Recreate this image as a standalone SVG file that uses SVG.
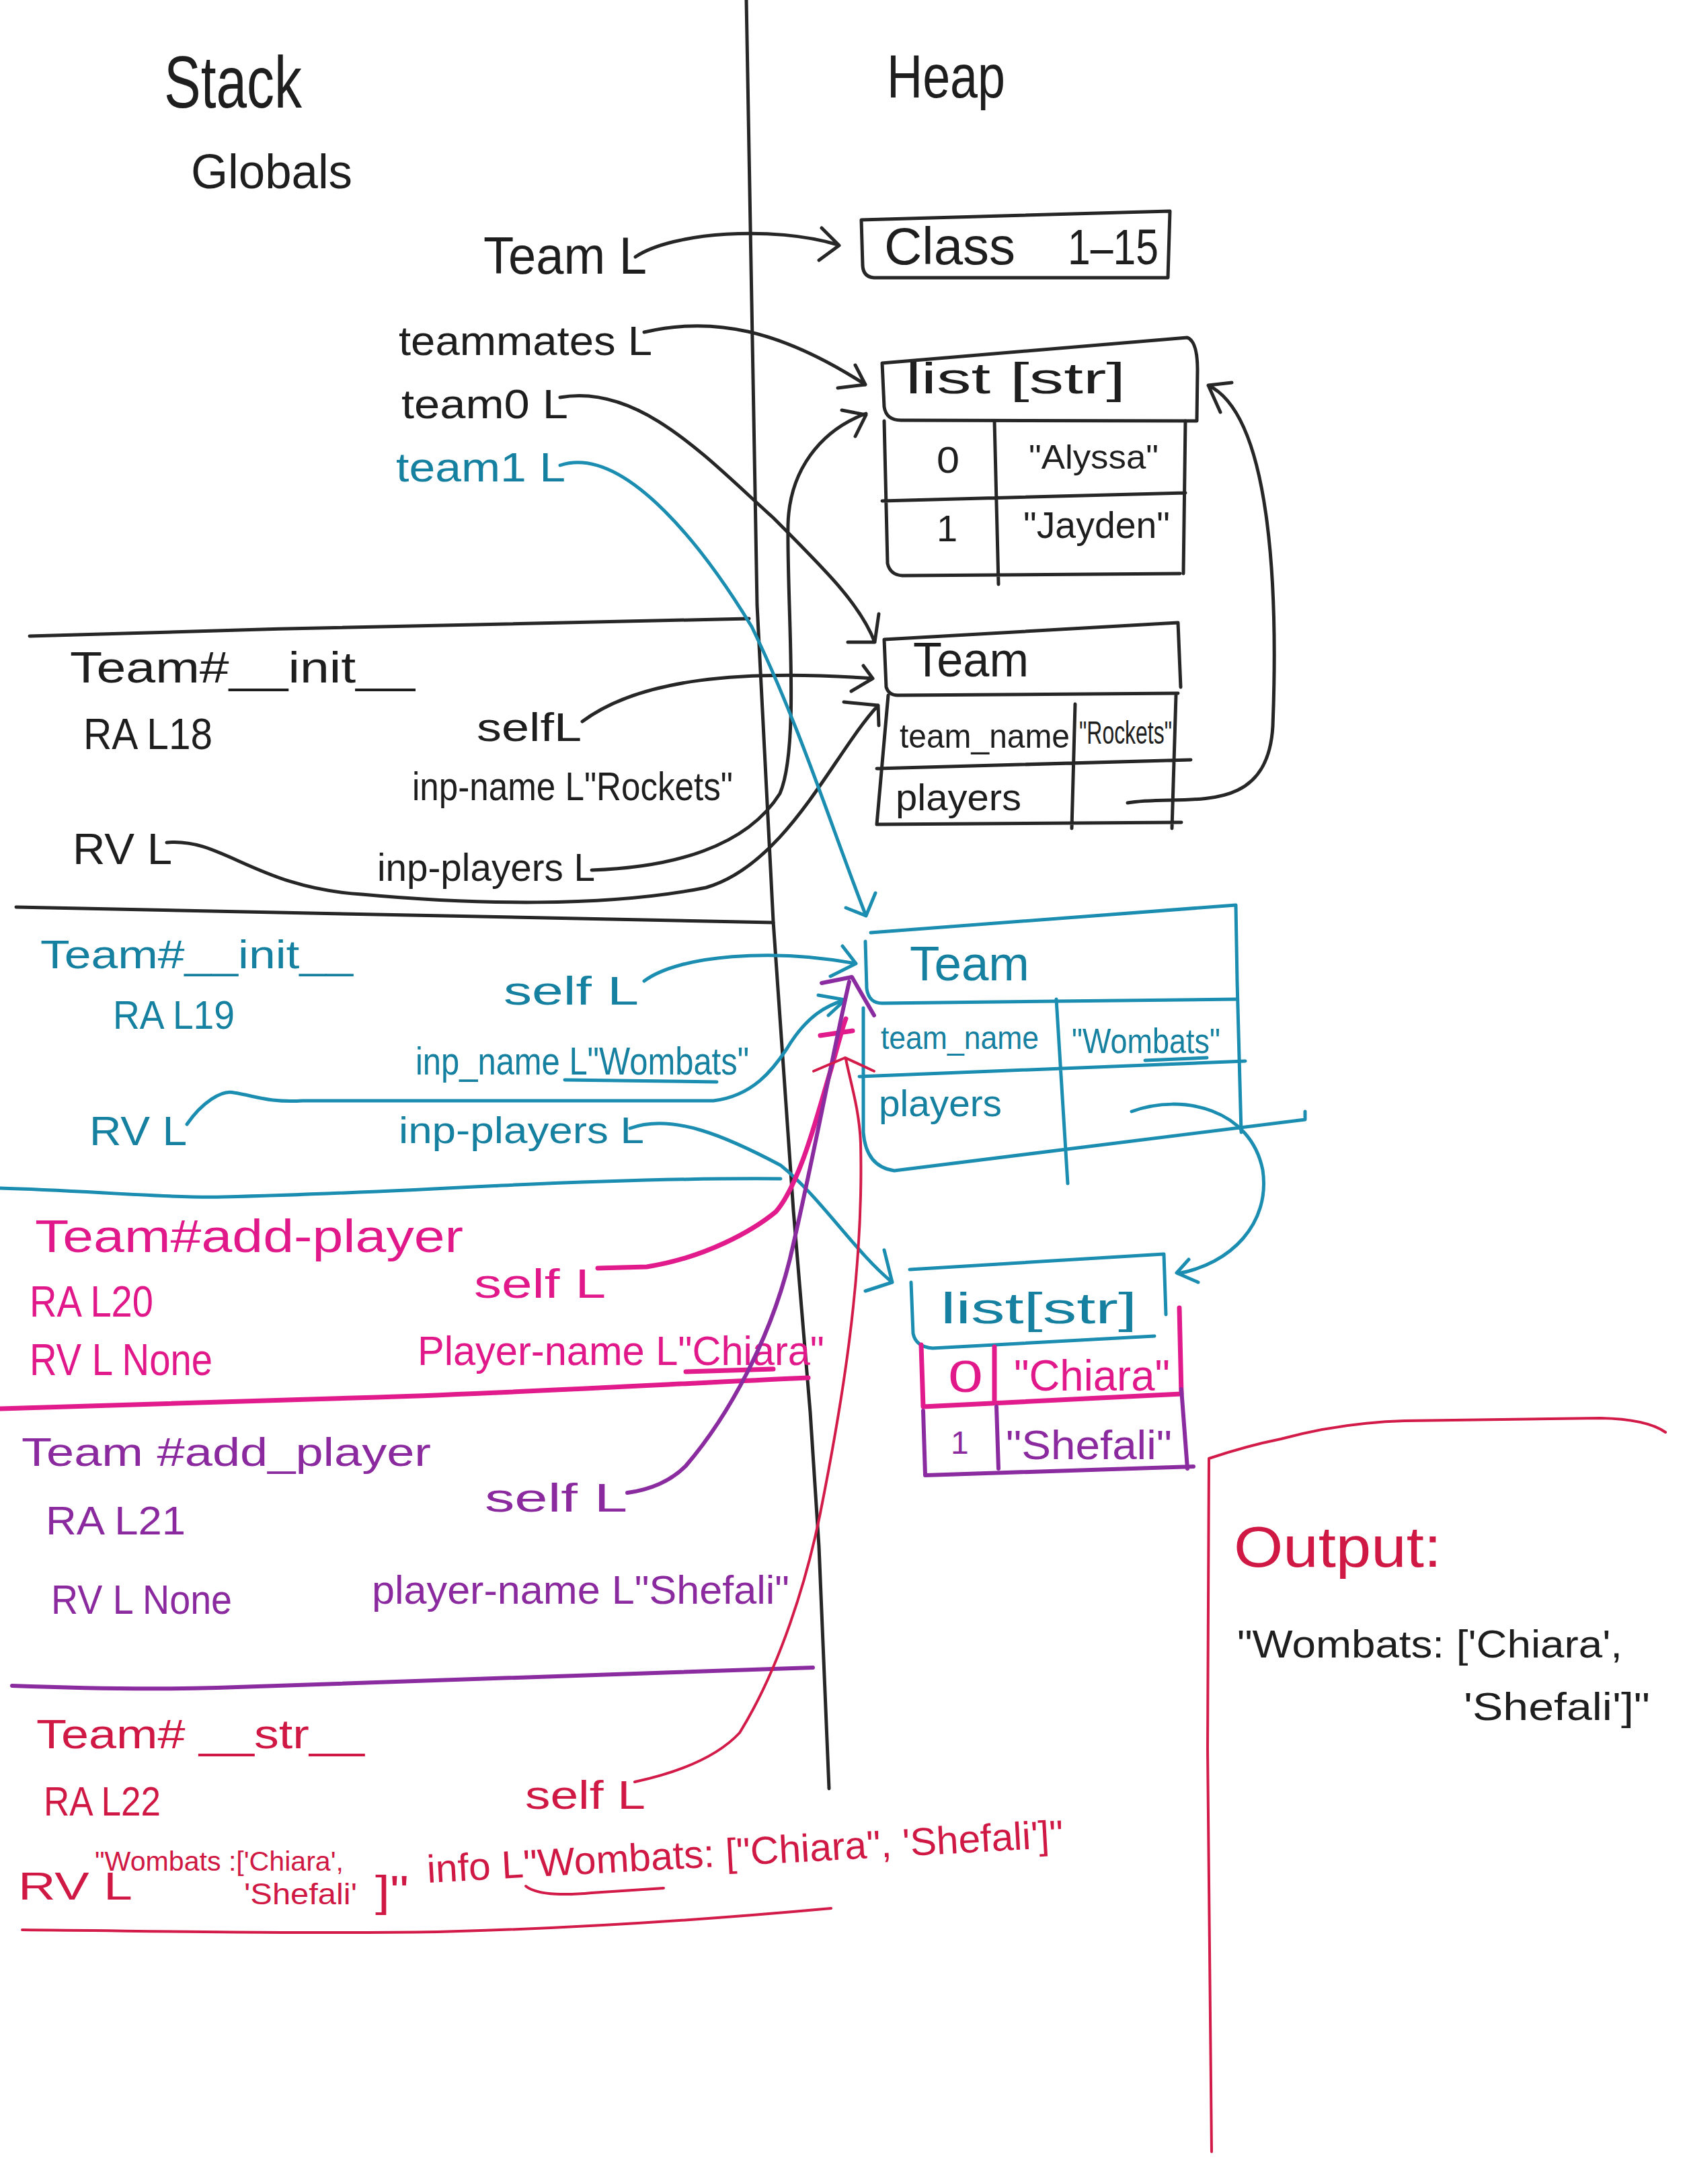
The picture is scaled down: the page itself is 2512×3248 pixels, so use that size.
<svg xmlns="http://www.w3.org/2000/svg" width="2512" height="3248" viewBox="0 0 2512 3248">
<style>
.ink{fill:none;stroke-linecap:round;stroke-linejoin:round}
.k{stroke:#262626;stroke-width:5}
.t{stroke:#1b8db0;stroke-width:5}
.p{stroke:#e11b8c;stroke-width:7}
.v{stroke:#8b2ba0;stroke-width:6}
.r{stroke:#d21b48;stroke-width:4}
text{font-family:"Liberation Sans",Arial,sans-serif}
.tk{fill:#1e1e1e}
.tt{fill:#15809f}
.tp{fill:#e0188a}
.tv{fill:#8a2a9e}
.tr{fill:#cf1843}
</style>
<rect width="2512" height="3248" fill="#ffffff"/>

<g id="divider">
<path class="ink k" d="M1110,0 L1118,450 L1126,900 L1150,1370 L1180,1800 L1205,2100 L1218,2300 L1233,2660"/>
</g>

<g id="headings">
<text class="tk" x="244" y="160" font-size="110" textLength="205" lengthAdjust="spacingAndGlyphs">Stack</text>
<text class="tk" x="1319" y="145" font-size="90" textLength="176" lengthAdjust="spacingAndGlyphs">Heap</text>
<text class="tk" x="284" y="280" font-size="72" textLength="240" lengthAdjust="spacingAndGlyphs">Globals</text>
</g>

<g id="globals">
<text class="tk" x="719" y="407" font-size="78" textLength="243" lengthAdjust="spacingAndGlyphs">Team L</text>
<text class="tk" x="593" y="528" font-size="62" textLength="377" lengthAdjust="spacingAndGlyphs">teammates L</text>
<text class="tk" x="597" y="622" font-size="62" textLength="248" lengthAdjust="spacingAndGlyphs">team0 L</text>
<text class="tt" x="589" y="716" font-size="62" textLength="252" lengthAdjust="spacingAndGlyphs">team1 L</text>
</g>

<g id="frame-init-rockets">
<path class="ink k" d="M44,946 C400,935 800,925 1114,920"/>
<text class="tk" x="104" y="1015" font-size="64" textLength="513" lengthAdjust="spacingAndGlyphs">Team#__init__</text>
<text class="tk" x="124" y="1114" font-size="64" textLength="192" lengthAdjust="spacingAndGlyphs">RA L18</text>
<text class="tk" x="709" y="1102" font-size="60" textLength="156" lengthAdjust="spacingAndGlyphs">selfL</text>
<text class="tk" x="613" y="1190" font-size="60" textLength="477" lengthAdjust="spacingAndGlyphs">inp-name L"Rockets"</text>
<text class="tk" x="108" y="1285" font-size="64" textLength="148" lengthAdjust="spacingAndGlyphs">RV L</text>
<text class="tk" x="561" y="1310" font-size="58" textLength="324" lengthAdjust="spacingAndGlyphs">inp-players L</text>
<path class="ink k" d="M24,1349 C300,1352 700,1360 1150,1372"/>
</g>

<g id="frame-init-wombats">
<text class="tt" x="60" y="1440" font-size="60" textLength="465" lengthAdjust="spacingAndGlyphs">Team#__init__</text>
<text class="tt" x="168" y="1530" font-size="60" textLength="181" lengthAdjust="spacingAndGlyphs">RA L19</text>
<text class="tt" x="749" y="1494" font-size="60" textLength="201" lengthAdjust="spacingAndGlyphs">self L</text>
<text class="tt" x="618" y="1598" font-size="58" textLength="496" lengthAdjust="spacingAndGlyphs">inp_name L"Wombats"</text>
<path class="ink t" d="M840,1606 L1066,1609" stroke-width="4"/>
<text class="tt" x="133" y="1703" font-size="62" textLength="145" lengthAdjust="spacingAndGlyphs">RV L</text>
<text class="tt" x="593" y="1700" font-size="56" textLength="365" lengthAdjust="spacingAndGlyphs">inp-players L</text>
<path class="ink t" d="M0,1767 C120,1770 250,1782 332,1780 C500,1776 650,1768 746,1763 C900,1756 1050,1752 1161,1753"/>
</g>

<g id="frame-add-chiara">
<text class="tp" x="52" y="1862" font-size="68" textLength="637" lengthAdjust="spacingAndGlyphs">Team#add-player</text>
<text class="tp" x="44" y="1958" font-size="64" textLength="184" lengthAdjust="spacingAndGlyphs">RA L20</text>
<text class="tp" x="44" y="2045" font-size="66" textLength="272" lengthAdjust="spacingAndGlyphs">RV L None</text>
<text class="tp" x="705" y="1930" font-size="62" textLength="196" lengthAdjust="spacingAndGlyphs">self L</text>
<text class="tp" x="621" y="2030" font-size="62" textLength="605" lengthAdjust="spacingAndGlyphs">Player-name L"Chiara"</text>
<path class="ink p" d="M1020,2040 L1150,2036" stroke-width="4"/>
<path class="ink p" d="M0,2095 C200,2090 400,2082 561,2078 C800,2070 1000,2058 1202,2049" stroke-width="4"/>
</g>

<g id="frame-add-shefali">
<text class="tv" x="32" y="2180" font-size="60" textLength="609" lengthAdjust="spacingAndGlyphs">Team #add_player</text>
<text class="tv" x="68" y="2282" font-size="60" textLength="208" lengthAdjust="spacingAndGlyphs">RA L21</text>
<text class="tv" x="721" y="2248" font-size="60" textLength="212" lengthAdjust="spacingAndGlyphs">self L</text>
<text class="tv" x="76" y="2400" font-size="62" textLength="269" lengthAdjust="spacingAndGlyphs">RV L None</text>
<text class="tv" x="553" y="2385" font-size="60" textLength="621" lengthAdjust="spacingAndGlyphs">player-name L"Shefali"</text>
<path class="ink v" d="M18,2507 C150,2512 250,2512 323,2510 C500,2505 700,2495 1209,2480" stroke-width="4"/>
</g>

<g id="frame-str">
<text class="tr" x="54" y="2600" font-size="62" textLength="488" lengthAdjust="spacingAndGlyphs">Team# __str__</text>
<text class="tr" x="65" y="2700" font-size="62" textLength="174" lengthAdjust="spacingAndGlyphs">RA L22</text>
<text class="tr" x="781" y="2690" font-size="60" textLength="179" lengthAdjust="spacingAndGlyphs">self L</text>
<text class="tr" x="27" y="2825" font-size="58" textLength="170" lengthAdjust="spacingAndGlyphs">RV L</text>
<text class="tr" x="141" y="2782" font-size="40" textLength="370" lengthAdjust="spacingAndGlyphs">"Wombats :['Chiara',</text>
<text class="tr" x="363" y="2832" font-size="44" textLength="168" lengthAdjust="spacingAndGlyphs">'Shefali'</text>
<text class="tr" x="558" y="2835" font-size="64" textLength="50" lengthAdjust="spacingAndGlyphs">]"</text>
<text class="tr" x="636" y="2800" font-size="58" textLength="948" lengthAdjust="spacingAndGlyphs" transform="rotate(-3.2 636 2800)">info L"Wombats: ["Chiara", 'Shefali']"</text>
<path class="ink r" d="M782,2805 C800,2820 850,2818 880,2815 C930,2812 960,2810 987,2808"/>
<path class="ink r" d="M33,2870 C250,2872 450,2876 651,2873 C850,2868 1050,2855 1236,2838"/>
</g>

<g id="output">
<path class="ink r" d="M1802,3200 L1796,2600 L1798,2169 C1840,2155 1880,2145 1905,2140 C1960,2125 2020,2115 2089,2113 L2380,2109 C2430,2110 2460,2118 2477,2130"/>
<text class="tr" x="1835" y="2330" font-size="86" textLength="309" lengthAdjust="spacingAndGlyphs">Output:</text>
<text class="tk" x="1840" y="2465" font-size="58" textLength="573" lengthAdjust="spacingAndGlyphs">"Wombats: ['Chiara',</text>
<text class="tk" x="2177" y="2558" font-size="58" textLength="277" lengthAdjust="spacingAndGlyphs">'Shefali']"</text>
</g>

<g id="class-team">
<path class="ink k" d="M1281,327 L1740,314 L1737,413 L1300,413 Q1284,412 1283,395 Z"/>
<text class="tk" x="1315" y="393" font-size="78" textLength="195" lengthAdjust="spacingAndGlyphs">Class</text>
<text class="tk" x="1588" y="393" font-size="74" textLength="135" lengthAdjust="spacingAndGlyphs">1–15</text>
</g>

<g id="list-rockets">
<path class="ink k" d="M1312,540 L1766,502 Q1781,508 1781,550 L1780,626 M1312,540 L1315,605 Q1318,625 1340,625 L1780,626"/>
<path class="ink k" d="M1315,626 L1320,838 Q1324,855 1342,856 L1755,853 M1763,626 L1760,853 M1312,745 L1763,733 M1479,626 L1485,869"/>
<text class="tk" x="1347" y="585" font-size="64" textLength="327" lengthAdjust="spacingAndGlyphs">list [str]</text>
<text class="tk" x="1393" y="703" font-size="56" textLength="34" lengthAdjust="spacingAndGlyphs">0</text>
<text class="tk" x="1530" y="697" font-size="50" textLength="193" lengthAdjust="spacingAndGlyphs">"Alyssa"</text>
<text class="tk" x="1393" y="805" font-size="56">1</text>
<text class="tk" x="1522" y="800" font-size="56" textLength="218" lengthAdjust="spacingAndGlyphs">"Jayden"</text>
</g>

<g id="team-rockets">
<path class="ink k" d="M1315,951 L1752,926 L1756,1022 M1315,951 L1318,1022 Q1322,1034 1335,1034 L1752,1031"/>
<path class="ink k" d="M1321,1034 L1304,1226 L1757,1223 M1749,1034 L1743,1232 M1304,1143 L1771,1130 M1599,1047 L1594,1232"/>
<text class="tk" x="1358" y="1006" font-size="72" textLength="172" lengthAdjust="spacingAndGlyphs">Team</text>
<text class="tk" x="1338" y="1112" font-size="50" textLength="253" lengthAdjust="spacingAndGlyphs">team_name</text>
<text class="tk" x="1605" y="1106" font-size="48" textLength="138" lengthAdjust="spacingAndGlyphs">"Rockets"</text>
<text class="tk" x="1332" y="1205" font-size="56" textLength="187" lengthAdjust="spacingAndGlyphs">players</text>
</g>

<g id="team-wombats">
<path class="ink t" d="M1295,1387 L1838,1346 L1840,1460 L1846,1684 M1287,1400 L1289,1470 Q1292,1492 1312,1492 L1838,1486"/>
<path class="ink t" d="M1284,1499 L1284,1684 Q1288,1735 1330,1741 L1941,1665 L1941,1653 M1278,1601 L1852,1578 M1571,1486 L1588,1760"/>
<text class="tt" x="1353" y="1458" font-size="72" textLength="178" lengthAdjust="spacingAndGlyphs">Team</text>
<text class="tt" x="1310" y="1560" font-size="48" textLength="235" lengthAdjust="spacingAndGlyphs">team_name</text>
<text class="tt" x="1594" y="1566" font-size="52" textLength="221" lengthAdjust="spacingAndGlyphs">"Wombats"</text>
<path class="ink t" d="M1703,1577 L1795,1573" stroke-width="4"/>
<text class="tt" x="1307" y="1660" font-size="56" textLength="183" lengthAdjust="spacingAndGlyphs">players</text>
</g>

<g id="list-wombats">
<path class="ink t" d="M1353,1888 L1731,1865 L1734,1955 M1355,1907 L1358,1983 Q1362,2003 1387,2005 L1717,1987"/>
<text class="tt" x="1399" y="1968" font-size="64" textLength="292" lengthAdjust="spacingAndGlyphs">list[str]</text>
<path class="ink p" d="M1370,2000 L1373,2092 L1757,2073 M1754,1945 L1757,2073 M1479,2003 L1479,2085" stroke-width="6"/>
<text class="tp" x="1410" y="2070" font-size="66" textLength="52" lengthAdjust="spacingAndGlyphs">0</text>
<text class="tp" x="1508" y="2068" font-size="64" textLength="232" lengthAdjust="spacingAndGlyphs">"Chiara"</text>
<path class="ink v" d="M1373,2098 L1376,2194 L1775,2181 M1757,2066 L1766,2184 M1482,2092 L1485,2184" stroke-width="6"/>
<text class="tv" x="1414" y="2162" font-size="48">1</text>
<text class="tv" x="1496" y="2170" font-size="62" textLength="247" lengthAdjust="spacingAndGlyphs">"Shefali"</text>
</g>

<g id="connectors">
<path class="ink k" d="M945,382 C1000,345 1150,335 1246,364 M1222,339 L1248,365 L1218,387"/>
<path class="ink k" d="M958,494 C1060,470 1160,490 1287,572 M1272,543 L1287,572 L1246,577"/>
<path class="ink k" d="M833,591 C950,570 1050,680 1150,770 C1230,850 1280,900 1301,955 M1307,913 L1301,955 L1261,955"/>
<path class="ink k" d="M1677,1194 C1760,1180 1885,1220 1893,1080 C1900,900 1895,620 1797,573 M1832,569 L1797,573 L1815,613"/>
<path class="ink k" d="M866,1073 C950,1010 1100,995 1298,1009 M1284,990 L1298,1009 L1266,1028"/>
<path class="ink k" d="M880,1294 C1000,1290 1110,1260 1160,1180 C1190,1110 1170,900 1172,780 C1174,700 1220,640 1288,615 M1252,610 L1288,617 L1272,649"/>
<path class="ink k" d="M248,1253 C330,1245 380,1320 538,1330 C700,1345 900,1350 1050,1320 C1170,1285 1240,1120 1306,1049 M1255,1044 L1306,1049 L1307,1079"/>
<path class="ink t" d="M833,692 C930,660 1050,820 1118,932 C1190,1080 1240,1240 1288,1362 M1302,1328 L1288,1362 L1258,1350"/>
<path class="ink t" d="M958,1459 C1010,1420 1150,1410 1273,1433 M1253,1407 L1273,1433 L1235,1452"/>
<path class="ink t" d="M278,1672 C300,1640 330,1620 348,1625 C380,1630 400,1640 450,1637 L1061,1637 C1120,1630 1150,1590 1170,1560 C1200,1510 1230,1495 1257,1487 M1217,1480 L1257,1487 L1232,1510"/>
<path class="ink t" d="M937,1678 C1000,1655 1080,1690 1161,1733 C1220,1780 1270,1860 1327,1907 M1315,1859 L1327,1907 L1287,1920"/>
<path class="ink t" d="M1683,1653 C1760,1625 1860,1650 1878,1740 C1890,1820 1830,1880 1752,1894 M1768,1873 L1750,1893 L1782,1907"/>
<path class="ink p" d="M889,1886 L962,1884 C1050,1870 1120,1830 1154,1802 C1190,1760 1215,1660 1233,1600 C1245,1560 1252,1530 1258,1515 M1220,1540 L1268,1533"/>
<path class="ink v" d="M933,2220 C970,2215 1000,2200 1020,2180 C1080,2110 1150,1990 1180,1850 C1210,1720 1240,1560 1263,1460 M1222,1462 L1267,1453 L1300,1510"/>
<path class="ink r" d="M944,2650 C990,2640 1060,2620 1100,2577 C1160,2480 1200,2350 1220,2250 C1250,2100 1285,1900 1280,1700 C1278,1650 1265,1610 1258,1575 M1210,1593 L1257,1573 L1300,1593" stroke-width="5"/>
</g>
</svg>
